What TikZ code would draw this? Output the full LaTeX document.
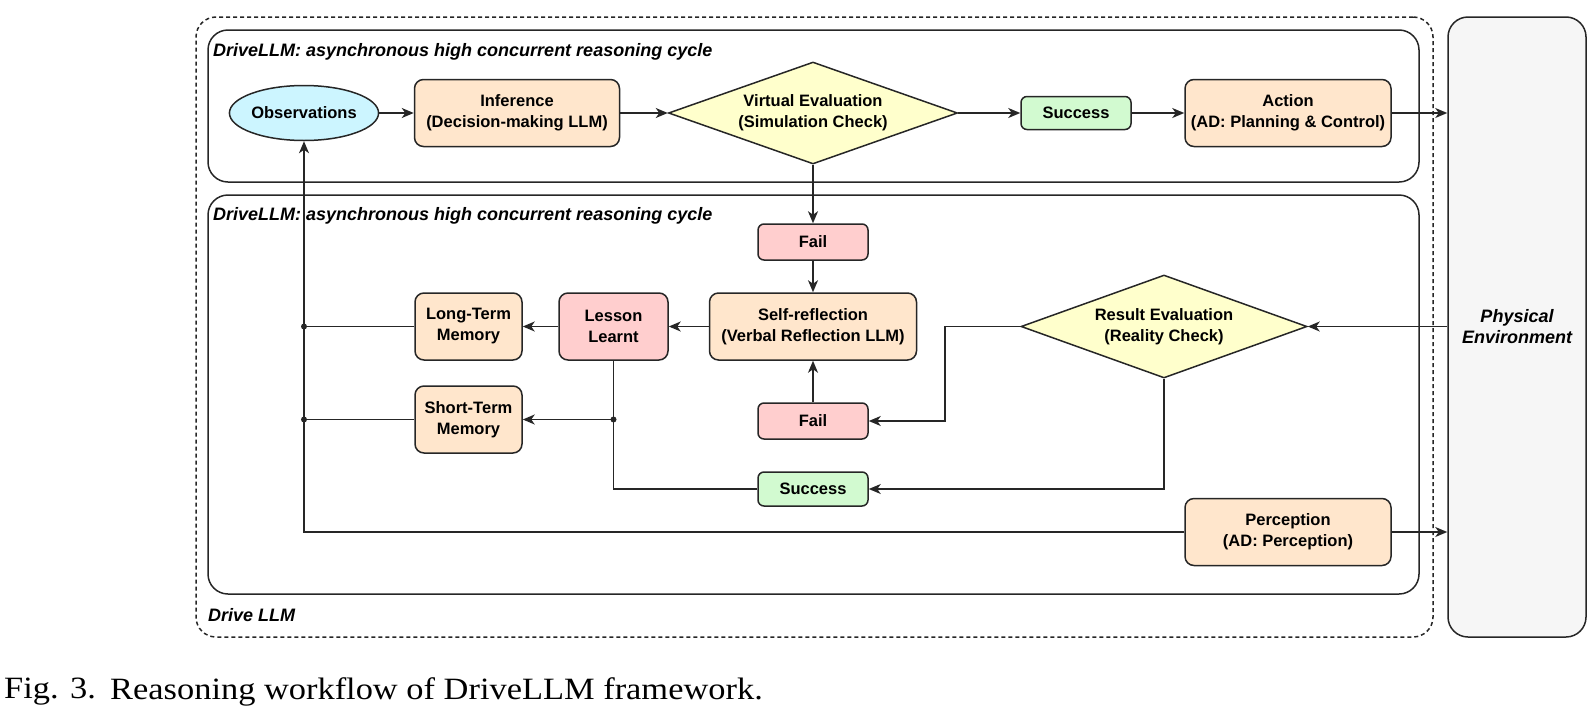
\documentclass[tikz,border=0pt]{standalone}
\usepackage{fontspec}
\setmainfont{Liberation Sans}
\newfontfamily\capfont[FakeStretch=1.11]{Liberation Serif}
\usetikzlibrary{shapes.geometric,arrows.meta}
\definecolor{lc}{RGB}{38,38,38}
\definecolor{peach}{RGB}{255,230,204}
\definecolor{yel}{RGB}{255,255,204}
\definecolor{grn}{RGB}{210,250,208}
\definecolor{pnk}{RGB}{255,206,206}
\definecolor{cyn}{RGB}{204,245,255}
\definecolor{gry}{RGB}{246,246,246}
\begin{document}
\begin{tikzpicture}[x=1pt,y=-1pt,
  nfont/.style={font=\fontsize{16.5}{21}\selectfont\bfseries},
  lfont/.style={font=\fontsize{18}{22}\selectfont\bfseries\itshape},
  box/.style={draw=lc,line width=1.5pt,rounded corners=9pt,align=center,inner sep=0pt,nfont},
  peachbox/.style={box,fill=peach,minimum width=205pt,minimum height=67pt},
  membox/.style={box,fill=peach,minimum width=107pt,minimum height=67pt},
  smallbox/.style={box,minimum width=110pt,minimum height=35pt,rounded corners=6pt},
  dia/.style={draw=lc,line width=1.5pt,diamond,shape aspect=2.8,fill=yel,align=center,inner sep=0pt,nfont},
  container/.style={draw=lc,line width=1.5pt,rounded corners=20pt,inner sep=0pt},
  lbl/.style={lfont,anchor=west,inner sep=0pt},
  arr/.style={draw=lc,line width=1.5pt,-{Stealth[length=12pt,width=10pt,inset=3.5pt]}},
  ln/.style={draw=lc,line width=1.5pt},
  dotm/.style={circle,fill=lc,inner sep=0pt,minimum size=6pt}
]
\useasboundingbox (0,0) rectangle (1594,726);
% containers
\node[container,dashed,dash pattern=on 4pt off 3pt,minimum width=1237pt,minimum height=620pt] (outer) at (814.5,327) {};
\node[container,minimum width=1211pt,minimum height=152pt] (topc) at (813.5,106) {};
\node[container,minimum width=1211pt,minimum height=399pt] (botc) at (813.5,394.5) {};
\node[container,fill=gry,minimum width=138pt,minimum height=620pt,lfont,align=center] (phys) at (1517,327) {Physical\\[-1pt]Environment};
\node[lbl] (ltop) at (213,52) {DriveLLM: asynchronous high concurrent reasoning cycle};
\node[lbl] (lbot) at (213,216) {DriveLLM: asynchronous high concurrent reasoning cycle};
\node[lbl] (ldrive) at (208,615) {Drive LLM};
% nodes
\node[ellipse,draw=lc,line width=1.5pt,fill=cyn,minimum width=136pt,minimum height=55pt,inner sep=0pt,nfont] (obs) at (304,113) {Observations};
\node[peachbox] (inf) at (517,113) {Inference\\(Decision-making LLM)};
\node[dia,minimum width=289pt,minimum height=102pt] (ve) at (813,113) {Virtual Evaluation\\(Simulation Check)};
\node[smallbox,fill=grn,minimum height=33pt] (s1) at (1076,113) {Success};
\node[peachbox,minimum width=206pt] (act) at (1288,113) {Action\\(AD: Planning \& Control)};
\node[smallbox,fill=pnk,minimum height=36pt] (f1) at (813,242) {Fail};
\node[peachbox,minimum width=207pt] (sr) at (813,326.5) {Self-reflection\\(Verbal Reflection LLM)};
\node[box,fill=pnk,minimum width=109pt,minimum height=67pt] (ll) at (613.5,326.5) {Lesson\\Learnt};
\node[membox] (ltm) at (468.5,326.5) {Long-Term\\Memory};
\node[membox] (stm) at (468.5,419.5) {Short-Term\\Memory};
\node[smallbox,fill=pnk,minimum height=36pt] (f2) at (813,421) {Fail};
\node[smallbox,fill=grn,minimum height=34pt] (s2) at (813,489) {Success};
\node[dia,minimum width=286pt,minimum height=103pt] (re) at (1164,326.5) {Result Evaluation\\(Reality Check)};
\node[peachbox,minimum width=206pt] (per) at (1288,532) {Perception\\(AD: Perception)};
% connectors top
\draw[arr] (obs) -- (inf);
\draw[arr] (inf) -- (ve);
\draw[arr] (ve) -- (s1);
\draw[arr] (s1) -- (act);
\draw[arr] (act.east) -- (act.east -| phys.west);
% vertical flow
\draw[arr] (ve.south) -- (f1.north);
\draw[arr] (f1.south) -- (sr.north);
\draw[arr] (f2.north) -- (sr.south);
\draw[arr] (sr.west) -- (ll.east);
\draw[arr] (ll.west) -- (ltm.east);
% result evaluation
\draw[arr] (re.east -| phys.west) -- (re.east);
\coordinate (rb) at (945,421);
\draw[arr] (re.west) -| (rb) -- (f2.east);
\draw[arr] (re.south) |- (s2.east);
\draw[ln] (s2.west) -| (ll.south);
\node[dotm] (j1) at (ll.south |- stm.east) {};
\draw[arr] (j1.center) -- (stm.east);
% left bus
\node[dotm] (j2) at (obs.south |- ltm.west) {};
\node[dotm] (j3) at (obs.south |- stm.west) {};
\draw[ln] (ltm.west) -- (j2.center);
\draw[ln] (stm.west) -- (j3.center);
\draw[arr] (per.west) -| (obs.south);
\draw[arr] (per.east) -- (per.east -| phys.west);
% caption
\node[anchor=west,inner sep=0pt,font=\fontsize{31}{36}\selectfont\capfont] (fig) at (4,692) {Fig. 3.};
\node[anchor=west,inner sep=0pt,font=\fontsize{31}{36}\selectfont\capfont] (cap) at (110,692) {Reasoning workflow of DriveLLM framework.};
\end{tikzpicture}
\end{document}
